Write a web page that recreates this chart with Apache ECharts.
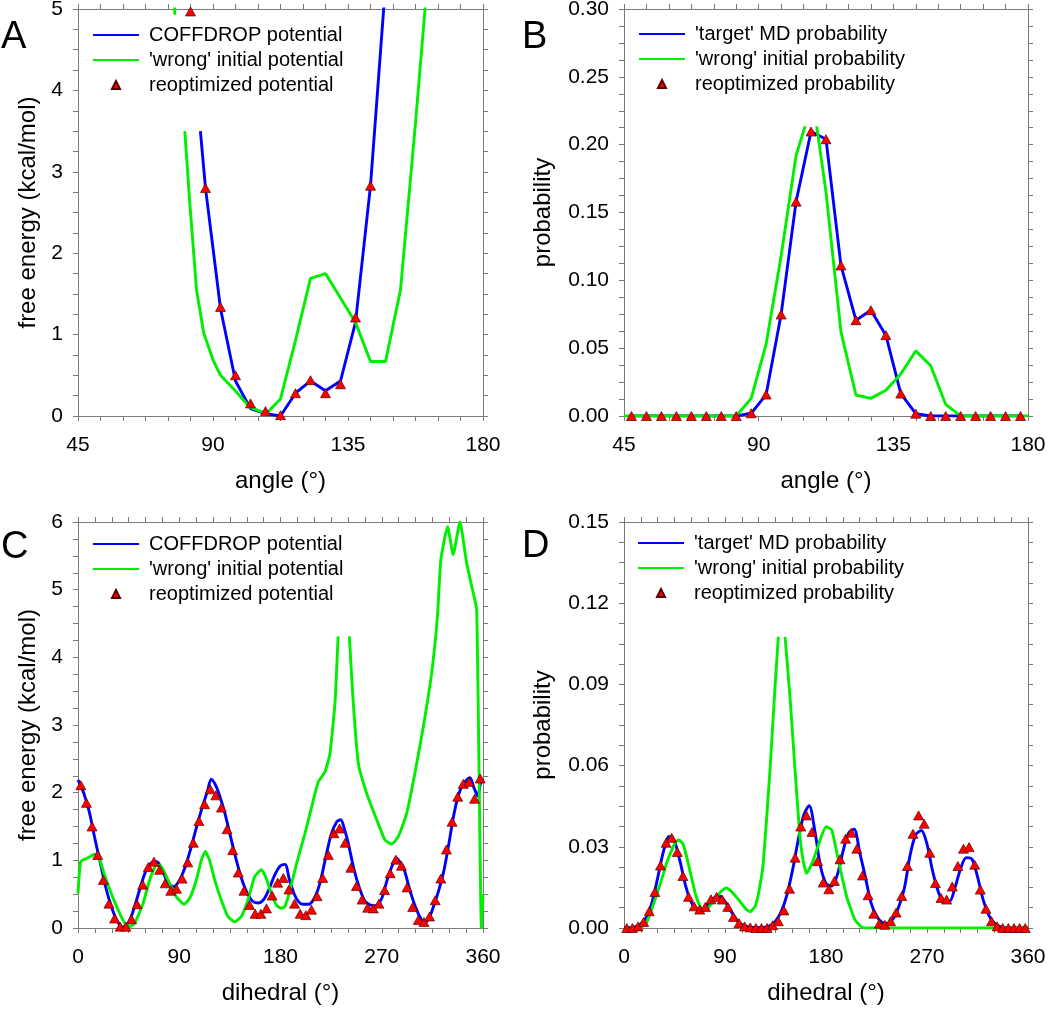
<!DOCTYPE html>
<html>
<head>
<meta charset="utf-8">
<script src="https://cdn.jsdelivr.net/npm/echarts@6/dist/echarts.min.js"></script>
<style>html,body{margin:0;padding:0;background:#fff}#chart{width:1050px;height:1009px}</style>
</head>
<body>
<div id="chart"></div>
<script>
// ---------------- Panel A : angle free energies ----------------
const angleA_coffdrop = [85.8, 87.5, 92.5, 97.5, 102.5, 107.5, 112.5, 117.5, 122.5, 127.5, 132.5, 137.5, 142.5, 147.5];
const energyA_coffdrop = [3.5, 2.8, 1.32, 0.43, 0.09, 0.03, 0.0, 0.28, 0.43, 0.31, 0.43, 1.15, 2.83, 5.3];
const angleA_wrong = [77.0, 77.3, 77.4, 80.6, 82.2, 84.5, 86.9, 90, 92.5, 97.2, 102.2, 107.8, 112.5, 117.5, 122.5, 127.5, 132.5, 137.5, 142.5, 147.5, 152.5, 157.5, 162.5];
const energyA_wrong = [5.2, 4.93, null, 3.5, 2.65, 1.55, 1.02, 0.69, 0.5, 0.32, 0.11, 0.03, 0.21, 0.93, 1.69, 1.75, 1.45, 1.15, 0.67, 0.67, 1.55, 3.6, 5.8];
const angleA_reopt = [82.5, 87.5, 92.5, 97.5, 102.5, 107.5, 112.5, 117.5, 122.5, 127.5, 132.5, 137.5, 142.5];
const energyA_reopt = [4.97, 2.8, 1.34, 0.5, 0.155, 0.06, 0.01, 0.28, 0.44, 0.28, 0.39, 1.21, 2.83];

// ---------------- Panel B : angle probabilities ----------------
const angleB_target = [47.5, 52.5, 57.5, 62.5, 67.5, 72.5, 77.5, 82.5, 87.5, 92.5, 97.5, 102.5, 107.5, 112.5, 117.5, 122.5, 127.5, 132.5, 137.5, 142.5, 147.5, 152.5, 157.5, 162.5, 167.5, 172.5, 177.5];
const probB_target = [0, 0, 0, 0, 0, 0, 0, 0, 0.002, 0.0158, 0.0748, 0.158, 0.2097, 0.204, 0.111, 0.0706, 0.078, 0.0596, 0.0165, 0.0017, 0, 0, 0, 0, 0, 0, 0];
const angleB_wrong = [45, 82.5, 87.5, 92.5, 97.5, 102.5, 105.5, 105.6, 109.4, 112.5, 117.5, 122.5, 127.5, 132.5, 137.5, 142.5, 147.5, 152.5, 157.5, 180];
const probB_wrong = [0, 0, 0.013, 0.053, 0.118, 0.192, 0.2135, null, 0.2135, 0.165, 0.062, 0.0155, 0.013, 0.019, 0.031, 0.048, 0.037, 0.0085, 0, 0];
const angleB_reopt = [47.5, 52.5, 57.5, 62.5, 67.5, 72.5, 77.5, 82.5, 87.5, 92.5, 97.5, 102.5, 107.5, 112.5, 117.5, 122.5, 127.5, 132.5, 137.5, 142.5, 147.5, 152.5, 157.5, 162.5, 167.5, 172.5, 177.5];
const probB_reopt = [0, 0, 0, 0, 0, 0, 0, 0, 0.002, 0.0158, 0.0748, 0.158, 0.2097, 0.204, 0.111, 0.0706, 0.078, 0.0596, 0.0165, 0.0017, 0, 0, 0, 0, 0, 0, 0];

// ---------------- Panel C : dihedral free energies ----------------
const dihC_coffdrop = [0, 5, 10, 15, 20, 25, 30, 35, 40, 45, 50, 55, 60, 65, 70, 75, 80, 85, 90, 95, 100, 105, 110, 115, 118.5, 122, 125, 130, 135, 140, 145, 150, 155, 160, 165, 170, 175, 180, 184, 188, 192, 196, 200, 205, 210, 215, 220, 225, 230, 233.5, 237, 240, 245, 250, 255, 260, 265, 270, 275, 280, 283.3, 287, 290, 295, 300, 305, 308, 312, 315, 320, 325, 330, 335, 340, 345, 348.4, 352, 355.5, 357.5, 360];
const energyC_coffdrop = [2.19, 2.0, 1.72, 1.32, 0.95, 0.58, 0.3, 0.1, 0.01, 0.08, 0.3, 0.58, 0.83, 0.96, 0.98, 0.85, 0.67, 0.61, 0.7, 0.89, 1.16, 1.47, 1.76, 2.02, 2.2, 2.12, 2.0, 1.73, 1.39, 1.05, 0.75, 0.53, 0.4, 0.37, 0.42, 0.58, 0.79, 0.92, 0.94, 0.71, 0.51, 0.39, 0.35, 0.35, 0.44, 0.66, 1.03, 1.38, 1.57, 1.6, 1.45, 1.27, 0.89, 0.6, 0.4, 0.34, 0.33, 0.44, 0.72, 0.95, 1.03, 0.95, 0.86, 0.56, 0.31, 0.13, 0.08, 0.14, 0.27, 0.52, 0.83, 1.28, 1.75, 2.05, 2.18, 2.22, 2.07, 1.95, 2.12, 2.2];
const dihC_wrong = [0, 2.4, 8, 14.8, 18.4, 23.7, 29.6, 35.6, 41.5, 45.9, 50.4, 57.8, 63.7, 69.6, 74, 80, 87.4, 94.2, 99.3, 105.2, 109.6, 113.2, 117, 121.5, 127.4, 133.3, 139.3, 145.2, 151, 157, 163, 167.4, 171.9, 176.3, 180.7, 184, 188.4, 194.4, 201.8, 207.7, 213.6, 219.6, 224, 228.4, 231.2, 231.3, 241.2, 244.7, 249.2, 256.6, 265.5, 272.9, 278.8, 284.7, 292.1, 299.5, 307, 314.3, 319.5, 322.5, 328.5, 333.5, 339.5, 345.5, 350, 354.4, 358.6, 360];
const energyC_wrong = [0.51, 0.98, 1.03, 1.09, 1.05, 0.78, 0.51, 0.27, 0.07, 0.02, 0.07, 0.36, 0.71, 0.93, 0.91, 0.71, 0.46, 0.35, 0.44, 0.71, 1.0, 1.13, 1.0, 0.71, 0.41, 0.17, 0.09, 0.17, 0.41, 0.76, 0.86, 0.73, 0.51, 0.34, 0.29, 0.32, 0.56, 0.96, 1.4, 1.79, 2.16, 2.31, 2.58, 3.32, 4.31, null, 4.31, 3.32, 2.43, 1.99, 1.6, 1.3, 1.24, 1.35, 1.69, 2.29, 2.98, 3.76, 4.6, 5.44, 5.93, 5.52, 6.0, 5.39, 5.05, 4.7, 0.0, 0.5];
const dihC_reopt = [2.5, 7.5, 12.5, 17.5, 22.5, 27.5, 32.5, 37.5, 42.5, 47.5, 52.5, 57.5, 62.5, 67.5, 72.5, 77.5, 82.5, 87.5, 92.5, 97.5, 102.5, 107.5, 112.5, 117.5, 122.5, 127.5, 132.5, 137.5, 142.5, 147.5, 152.5, 157.5, 162.5, 167.5, 172.5, 177.5, 182.5, 187.5, 192.5, 197.5, 202.5, 207.5, 212.5, 217.5, 222.5, 227.5, 232.5, 237.5, 242.5, 247.5, 252.5, 257.5, 262.5, 267.5, 272.5, 277.5, 282.5, 287.5, 292.5, 297.5, 302.5, 307.5, 312.5, 317.5, 322.5, 327.5, 332.5, 337.5, 342.5, 347.5, 352.5, 357.5];
const energyC_reopt = [2.11, 1.85, 1.5, 1.08, 0.71, 0.36, 0.14, 0.02, 0.02, 0.13, 0.35, 0.64, 0.9, 0.98, 0.86, 0.66, 0.55, 0.58, 0.73, 0.97, 1.26, 1.58, 1.83, 2.05, 1.96, 1.78, 1.46, 1.15, 0.82, 0.55, 0.34, 0.21, 0.21, 0.29, 0.48, 0.67, 0.74, 0.57, 0.36, 0.21, 0.19, 0.27, 0.47, 0.74, 1.08, 1.4, 1.47, 1.26, 0.89, 0.62, 0.42, 0.3, 0.29, 0.36, 0.56, 0.81, 1.01, 0.92, 0.6, 0.31, 0.12, 0.09, 0.17, 0.41, 0.73, 1.16, 1.57, 1.94, 2.13, 2.16, 1.91, 2.21];

// ---------------- Panel D : dihedral probabilities ----------------
const dihD_target = [0, 5, 10, 15, 20, 25, 30, 35, 40, 45, 50, 55, 60, 65, 70, 75, 80, 85, 90, 95, 100, 105, 110, 115, 120, 125, 130, 135, 140, 145, 150, 155, 160, 165, 170, 175, 180, 185, 190, 195, 200, 205, 210, 215, 220, 225, 230, 235, 240, 245, 250, 255, 260, 265, 270, 275, 280, 285, 290, 295, 300, 305, 310, 315, 320, 325, 330, 335, 340, 345, 350, 355, 360];
const probD_target = [0, 0.0001, 0.0004, 0.0015, 0.004, 0.0095, 0.0185, 0.028, 0.0338, 0.032, 0.0245, 0.0155, 0.0095, 0.007, 0.007, 0.0088, 0.011, 0.0118, 0.0098, 0.0065, 0.0032, 0.0013, 0.0005, 0.0002, 0.0001, 0.0002, 0.0008, 0.0025, 0.006, 0.012, 0.021, 0.032, 0.0415, 0.0452, 0.036, 0.023, 0.0165, 0.0155, 0.0195, 0.028, 0.035, 0.0365, 0.028, 0.019, 0.0095, 0.0045, 0.002, 0.0017, 0.0035, 0.008, 0.015, 0.027, 0.0345, 0.036, 0.031, 0.021, 0.0135, 0.0098, 0.0098, 0.015, 0.022, 0.026, 0.0255, 0.019, 0.0105, 0.0048, 0.0018, 0.0005, 0.0001, 0, 0, 0, 0];
const dihD_wrong = [15, 20, 24.4, 28, 33.3, 38, 42.2, 46, 49, 52.6, 56, 60, 64, 68, 71, 75, 80, 86, 91, 95, 100, 104, 109, 112.3, 116.7, 120, 124.1, 130.1, 134.6, 137.5, 137.6, 143.5, 147.9, 152.4, 156.8, 160, 162.8, 168.7, 174.7, 180, 185.1, 191, 198.4, 205.8, 212, 220, 360];
const probD_wrong = [0, 0.002, 0.0065, 0.011, 0.0176, 0.024, 0.0285, 0.0318, 0.0325, 0.031, 0.026, 0.019, 0.012, 0.0078, 0.0066, 0.0075, 0.010, 0.0133, 0.0148, 0.0138, 0.0115, 0.0095, 0.0068, 0.006, 0.0079, 0.013, 0.024, 0.0584, 0.0892, 0.1076, null, 0.1076, 0.0855, 0.0584, 0.0337, 0.024, 0.0202, 0.0251, 0.0325, 0.0374, 0.0362, 0.0251, 0.0116, 0.003, 0.0003, 0, 0];
const dihD_reopt = [2.5, 7.5, 12.5, 17.5, 22.5, 27.5, 32.5, 37.5, 42.5, 47.5, 52.5, 57.5, 62.5, 67.5, 72.5, 77.5, 82.5, 87.5, 92.5, 97.5, 102.5, 107.5, 112.5, 117.5, 122.5, 127.5, 132.5, 137.5, 142.5, 147.5, 152.5, 157.5, 162.5, 167.5, 172.5, 177.5, 182.5, 187.5, 192.5, 197.5, 202.5, 207.5, 212.5, 217.5, 222.5, 227.5, 232.5, 237.5, 242.5, 247.5, 252.5, 257.5, 262.5, 267.5, 272.5, 277.5, 282.5, 287.5, 292.5, 297.5, 302.5, 307.5, 312.5, 317.5, 322.5, 327.5, 332.5, 337.5, 342.5, 347.5, 352.5, 357.5];
const probD_reopt = [0, 0, 0.0006, 0.0022, 0.0062, 0.0133, 0.0231, 0.0315, 0.0333, 0.0281, 0.0192, 0.0115, 0.008, 0.0068, 0.0078, 0.0106, 0.0115, 0.0105, 0.0078, 0.0041, 0.0018, 0.0006, 0.0002, 0, 0, 0, 0.001, 0.0025, 0.0065, 0.0145, 0.026, 0.0375, 0.0416, 0.0355, 0.0247, 0.0168, 0.0143, 0.0174, 0.0254, 0.033, 0.0352, 0.0293, 0.0194, 0.0121, 0.0053, 0.0016, 0.0012, 0.0025, 0.0057, 0.0118, 0.0229, 0.0348, 0.0416, 0.0385, 0.0278, 0.0166, 0.0111, 0.0105, 0.0153, 0.0229, 0.0293, 0.0299, 0.0234, 0.0142, 0.0071, 0.0025, 0.0006, 0, 0, 0, 0, 0];

// ---------------- labels ----------------
const panelLetters = ['A', 'B', 'C', 'D'];
const legendEnergy = ['COFFDROP potential', "'wrong' initial potential", 'reoptimized potential'];
const legendProb = ["'target' MD probability", "'wrong' initial probability", 'reoptimized probability'];
const xTitles = ['angle (°)', 'angle (°)', 'dihedral (°)', 'dihedral (°)'];
const yTitles = ['free energy (kcal/mol)', 'probability', 'free energy (kcal/mol)', 'probability'];

// ---------------- layout / style ----------------
const FONT = '"Liberation Sans", Arial, Helvetica, sans-serif';
const AXIS_COLOR = '#7a7a7a';
const BLUE = '#0000ff', GREEN = '#00ee00', RED = '#ff0000';
const LINE_W = 2.9;
// legend triangle: small triangle centred in a 46x8 icon box (invisible end points keep the box width)
const LEGEND_TRIANGLE = 'path://M0,8L0,8M19,8L23,0L27,8ZM46,8L46,8';

const grids = [
  {left: 78, top: 9, width: 405, height: 407},
  {left: 624, top: 9, width: 404, height: 407},
  {left: 78, top: 522, width: 405, height: 406},
  {left: 624, top: 522, width: 404, height: 406}
];
const xCfg = [
  {min: 45, max: 180, interval: 45, minor: 6},
  {min: 45, max: 180, interval: 45, minor: 6},
  {min: 0, max: 360, interval: 90, minor: 6},
  {min: 0, max: 360, interval: 90, minor: 6}
];
const yCfg = [
  {min: 0, max: 5, interval: 1, minor: 4, dec: 0, gap: 38},
  {min: 0, max: 0.30, interval: 0.05, minor: 4, dec: 2, gap: 69},
  {min: 0, max: 6, interval: 1, minor: 4, dec: 0, gap: 38},
  {min: 0, max: 0.15, interval: 0.03, minor: 4, dec: 2, gap: 69}
];
const legendPos = [
  {left: 92, top: 25}, {left: 638, top: 24}, {left: 92, top: 534}, {left: 637, top: 533}
];

function pairs(xs, ys) { return xs.map((x, i) => [x, ys[i]]); }

const tickStyle = {show: true, inside: false, length: 5, lineStyle: {color: AXIS_COLOR, width: 1}};
function minorStyle(n) { return {show: true, splitNumber: n, length: 5, lineStyle: {color: AXIS_COLOR, width: 1}}; }
const lineStyleAxis = {show: true, onZero: false, lineStyle: {color: AXIS_COLOR, width: 1}};

const xAxes = [], yAxes = [];
grids.forEach((g, i) => {
  const xc = xCfg[i], yc = yCfg[i];
  xAxes.push({
    type: 'value', gridIndex: i, position: 'bottom', min: xc.min, max: xc.max, interval: xc.interval,
    name: xTitles[i], nameLocation: 'middle', nameGap: 53,
    nameTextStyle: {fontSize: 24, color: '#000', fontFamily: FONT},
    axisLine: lineStyleAxis, axisTick: tickStyle, minorTick: minorStyle(xc.minor),
    splitLine: {show: false}, minorSplitLine: {show: false},
    axisLabel: {fontSize: 21, color: '#000', fontFamily: FONT, margin: 19}
  });
  xAxes.push({
    type: 'value', gridIndex: i, position: 'top', min: xc.min, max: xc.max, interval: xc.interval,
    axisLine: lineStyleAxis, axisTick: tickStyle, minorTick: minorStyle(xc.minor),
    splitLine: {show: false}, minorSplitLine: {show: false}, axisLabel: {show: false}
  });
  yAxes.push({
    type: 'value', gridIndex: i, position: 'left', min: yc.min, max: yc.max, interval: yc.interval,
    name: yTitles[i], nameLocation: 'middle', nameGap: yc.gap,
    nameTextStyle: {fontSize: 24, color: '#000', fontFamily: FONT},
    axisLine: lineStyleAxis, axisTick: tickStyle, minorTick: minorStyle(yc.minor),
    splitLine: {show: false}, minorSplitLine: {show: false},
    axisLabel: {fontSize: 21, color: '#000', fontFamily: FONT, margin: 15,
      formatter: (v) => Number(v).toFixed(yc.dec)}
  });
  yAxes.push({
    type: 'value', gridIndex: i, position: 'right', min: yc.min, max: yc.max, interval: yc.interval,
    axisLine: lineStyleAxis, axisTick: tickStyle, minorTick: minorStyle(yc.minor),
    splitLine: {show: false}, minorSplitLine: {show: false}, axisLabel: {show: false}
  });
});

function lineSeries(name, i, data, color, smooth) {
  return {
    type: 'line', name: name, xAxisIndex: 2 * i, yAxisIndex: 2 * i, data: data,
    symbol: 'none', showSymbol: false, smooth: smooth || false, connectNulls: false,
    lineStyle: {color: color, width: LINE_W}, itemStyle: {color: color}, clip: true, silent: true
  };
}
function triSeries(name, i, data) {
  return {
    type: 'scatter', name: name, xAxisIndex: 2 * i, yAxisIndex: 2 * i, data: data,
    symbol: 'triangle', symbolSize: [10, 9], z: 5, silent: true,
    itemStyle: {color: RED, borderColor: '#5a0000', borderWidth: 0.7, opacity: 1}
  };
}

const series = [
  lineSeries(legendEnergy[0], 0, pairs(angleA_coffdrop, energyA_coffdrop), BLUE),
  lineSeries(legendEnergy[1], 0, pairs(angleA_wrong, energyA_wrong), GREEN),
  triSeries(legendEnergy[2], 0, pairs(angleA_reopt, energyA_reopt)),

  lineSeries(legendProb[0], 1, pairs(angleB_target, probB_target), BLUE),
  lineSeries(legendProb[1], 1, pairs(angleB_wrong, probB_wrong), GREEN),
  triSeries(legendProb[2], 1, pairs(angleB_reopt, probB_reopt)),

  lineSeries(legendEnergy[0], 2, pairs(dihC_coffdrop, energyC_coffdrop), BLUE, 0.3),
  lineSeries(legendEnergy[1], 2, pairs(dihC_wrong, energyC_wrong), GREEN, 0.15),
  triSeries(legendEnergy[2], 2, pairs(dihC_reopt, energyC_reopt)),

  lineSeries(legendProb[0], 3, pairs(dihD_target, probD_target), BLUE, 0.3),
  lineSeries(legendProb[1], 3, pairs(dihD_wrong, probD_wrong), GREEN, 0.15),
  triSeries(legendProb[2], 3, pairs(dihD_reopt, probD_reopt))
];

function legendItems(names) {
  return [
    {name: names[0], itemStyle: {opacity: 0}},
    {name: names[1], itemStyle: {opacity: 0}},
    {name: names[2], icon: LEGEND_TRIANGLE}
  ];
}

const legends = legendPos.map((p, i) => ({
  left: p.left, top: p.top, orient: 'vertical', padding: 0,
  itemWidth: 46, itemHeight: 8, itemGap: 5, selectedMode: false,
  textStyle: {fontSize: 20, color: '#000', fontFamily: FONT, lineHeight: 20, padding: [0, 0, 0, 5]},
  data: legendItems(i % 2 === 0 ? legendEnergy : legendProb)
}));

const letterPos = [{left: 1, top: 19}, {left: 522, top: 19}, {left: 1, top: 529}, {left: 522, top: 528}];
const graphic = panelLetters.map((t, i) => ({
  type: 'text', left: letterPos[i].left, top: letterPos[i].top,
  style: {text: t, fontSize: 38, fontFamily: FONT, fill: '#000'}
}));

const chart = echarts.init(document.getElementById('chart'), null, {renderer: 'canvas'});
chart.setOption({
  backgroundColor: '#ffffff',
  animation: false,
  grid: grids.map(g => Object.assign({containLabel: false, outerBoundsMode: 'none'}, g)),
  xAxis: xAxes,
  yAxis: yAxes,
  legend: legends,
  graphic: graphic,
  series: series
});
</script>
</body>
</html>
